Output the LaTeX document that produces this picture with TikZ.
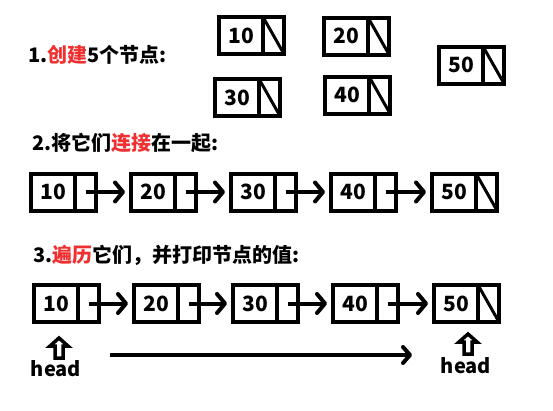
\documentclass[tikz,border=0pt]{standalone}
\usepackage{fontspec}
\newfontfamily\cjk{Noto Sans CJK SC}
\usepackage{xcolor}
\usetikzlibrary{arrows.meta,positioning}
\definecolor{hired}{RGB}{240,48,48}
\tikzset{
  valbox/.style={draw,line width=4pt,outer sep=0pt,inner sep=0pt,minimum width=44pt,minimum height=37pt,font=\cjk\bfseries\fontsize{21}{24}\selectfont},
  ptrbox/.style={draw,line width=4pt,outer sep=0pt,inner sep=0pt,minimum width=21pt,minimum height=37pt},
  nil/.style={line width=3pt},
  link/.style={line width=4pt,-{Straight Barb[length=8pt,width=19pt,round]},shorten >=6pt},
  walk/.style={line width=4pt,-{Straight Barb[length=7pt,width=16pt,round]}},
  title/.style={anchor=west,inner sep=0pt,font=\cjk\bfseries\fontsize{20}{24}\selectfont},
  headlbl/.style={inner sep=0pt,font=\cjk\bfseries\fontsize{20}{24}\selectfont},
  uparrow/.pic={\draw[line width=3.5pt,fill=white] (0,-10)--(9,-2)--(4,-2)--(4,10)--(-4,10)--(-4,-2)--(-9,-2)--cycle;}
}
\begin{document}
\begin{tikzpicture}[x=1pt,y=-1pt]
  \useasboundingbox (0,0) rectangle (553,410);
  % 1. five loose nodes
  \node[title] (t1) at (28,55) {1.\textcolor{hired}{创建}5个节点:};
  \foreach \v/\x/\y [count=\i] in {10/241/35.5,20/346/36,30/237/97.5,40/347/95,50/461/65} {
    \node[valbox] (a\i) at (\x,\y) {\v};
    \node[ptrbox,right=0pt of a\i] (ap\i) {};
    \draw[nil] (ap\i.north west) -- (ap\i.south east);
  }
  % 2. linked
  \node[title] (t2) at (32,143) {2.将它们\textcolor{hired}{连接}在一起:};
  \foreach \v/\x [count=\i] in {10/53,20/153,30/253,40/353,50/454} {
    \node[valbox] (b\i) at (\x,192) {\v};
    \node[ptrbox,right=0pt of b\i] (bp\i) {};
  }
  \foreach \i/\j in {1/2,2/3,3/4,4/5}
    \draw[link] (bp\i.center) -- (b\j.west);
  \draw[nil] (bp5.north west) -- (bp5.south east);
  % 3. traverse
  \node[title] (t3) at (33,255) {3.\textcolor{hired}{遍历}它们，并打印节点的值:};
  \foreach \v/\x [count=\i] in {10/56,20/156,30/255,40/355,50/456} {
    \node[valbox] (c\i) at (\x,303.5) {\v};
    \node[ptrbox,right=0pt of c\i] (cp\i) {};
  }
  \foreach \i/\j in {1/2,2/3,3/4,4/5}
    \draw[link] (cp\i.center) -- (c\j.west);
  \draw[nil] (cp5.north west) -- (cp5.south east);
  \pic at (59,348) {uparrow};
  \node[headlbl] (head1) at (56,369) {head};
  \pic at (468,344) {uparrow};
  \node[headlbl] (head2) at (466,366) {head};
  \coordinate (go0) at (110,355);
  \coordinate (go1) at (412,355);
  \draw[walk] (go0) -- (go1);
\end{tikzpicture}
\end{document}
